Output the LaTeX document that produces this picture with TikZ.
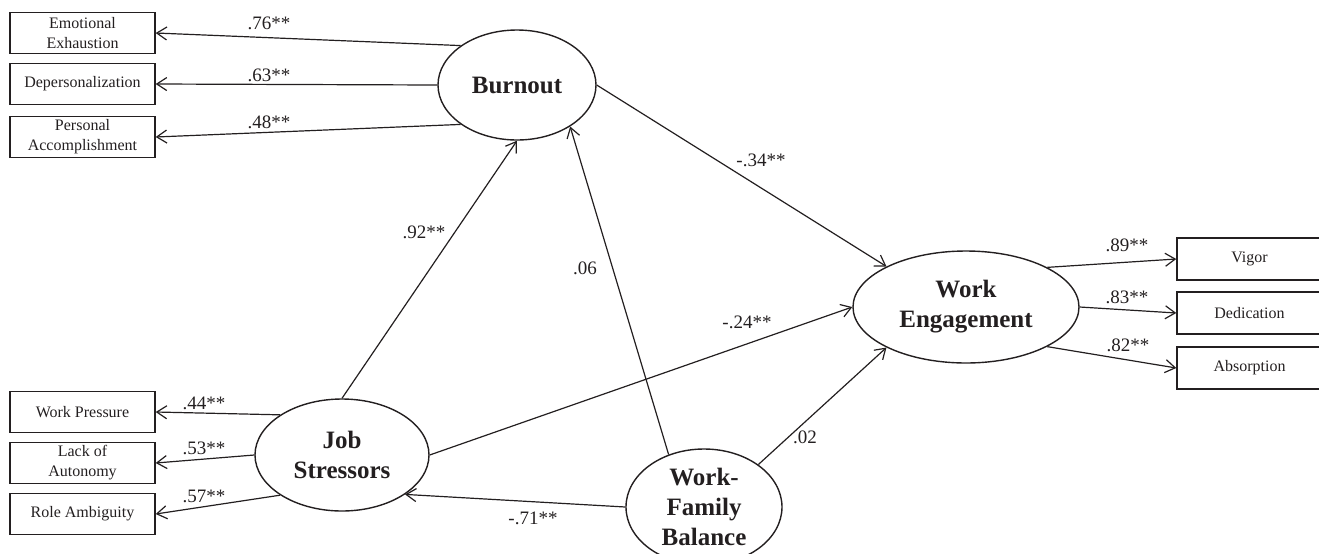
\documentclass[tikz,border=0pt]{standalone}
\usepackage{fontspec}
\setmainfont{Liberation Serif}
\usepackage{tikz}
\usetikzlibrary{
  shapes.geometric,
  arrows.meta,
  positioning
}
\definecolor{inkcolor}{RGB}{35, 31, 32}
\tikzset{
indicator/.style={
  draw=inkcolor,
  line width=0.7pt,
  minimum width=72.5pt,
  minimum height=20.5pt,
  inner sep=1pt,
  align=center,
  font=\fontsize{8}{10}\selectfont,
  text=inkcolor
},
latent/.style={
  ellipse,
  draw=inkcolor,
  line width=0.7pt,
  inner sep=0pt,
  align=center,
  font=\fontsize{12.5}{15}\selectfont\bfseries,
  text=inkcolor
},
coef/.style={
  font=\fontsize{9.5}{11}\selectfont,
  text=inkcolor,
  inner sep=1pt
},
arrow/.style={
  -{Straight Barb[length=5pt,width=6.5pt]},
  line width=0.6pt,
  draw=inkcolor
}
}
\begin{document}
\begin{tikzpicture}[x=0.5pt, y=-0.5pt]
        \useasboundingbox (0,0) rectangle (1319,553);

        % latent variables
        \node[latent, minimum width=79pt, minimum height=55pt] (burnout) at (517,85) {Burnout};
        \node[latent, minimum width=113pt, minimum height=56pt] (engage) at (966,307) {Work\\Engagement};
        \node[latent, minimum width=87pt, minimum height=56pt] (stressors) at (342,455) {Job\\Stressors};
        \node[latent, minimum width=78pt, minimum height=58pt] (balance) at (704,507) {Work-\\Family\\Balance};

        % Burnout indicators
        \node[indicator] (emoexh) at (82.5,33) {Emotional\\Exhaustion};
        \node[indicator] (deperson) at (82.5,84) {Depersonalization};
        \node[indicator] (persacc) at (82.5,137) {Personal\\Accomplishment};
        \draw[arrow] (burnout.145) -- (emoexh.east);
        \draw[arrow] (burnout.west) -- (deperson.east);
        \draw[arrow] (burnout.215) -- (persacc.east);
        \node[coef] (l76) at (269,23) {.76**};
        \node[coef] (l63) at (269,75) {.63**};
        \node[coef] (l48) at (269,122) {.48**};

        % Job Stressors indicators
        \node[indicator] (workpress) at (82.5,412) {Work Pressure};
        \node[indicator] (lackauto) at (82.5,463) {Lack of\\Autonomy};
        \node[indicator] (roleamb) at (82.5,514) {Role Ambiguity};
        \draw[arrow] (stressors.147) -- (workpress.east);
        \draw[arrow] (stressors.west) -- (lackauto.east);
        \draw[arrow] (stressors.213) -- (roleamb.east);
        \node[coef] (l44) at (204,403) {.44**};
        \node[coef] (l53) at (204,448) {.53**};
        \node[coef] (l57) at (204,496) {.57**};

        % Work Engagement indicators
        \node[indicator, minimum height=21pt] (vigor) at (1249.5,259) {Vigor};
        \node[indicator, minimum height=21pt] (dedication) at (1249.5,313) {Dedication};
        \node[indicator, minimum height=21pt] (absorption) at (1249.5,368) {Absorption};
        \draw[arrow] (engage.26) -- (vigor.west);
        \draw[arrow] (engage.east) -- (dedication.west);
        \draw[arrow] (engage.-26) -- (absorption.west);
        \node[coef] (l89) at (1127,245) {.89**};
        \node[coef] (l83) at (1127,297) {.83**};
        \node[coef] (l82) at (1128,345) {.82**};

        % structural paths
        \draw[arrow] (stressors.north) -- (burnout.south);
        \draw[arrow] (balance.124) -- (burnout.-38);
        \draw[arrow] (burnout.east) -- (engage.153);
        \draw[arrow] (stressors.east) -- (engage.west);
        \draw[arrow] (balance.38) -- (engage.207);
        \draw[arrow] (balance.west) -- (stressors.-32);
        \node[coef] (l92) at (424,232) {.92**};
        \node[coef] (l06) at (585,268) {.06};
        \node[coef] (l34) at (761,160) {-.34**};
        \node[coef] (l24) at (747,322) {-.24**};
        \node[coef] (l02) at (805,437) {.02};
        \node[coef] (l71) at (533,518) {-.71**};
      \end{tikzpicture}
\end{document}
